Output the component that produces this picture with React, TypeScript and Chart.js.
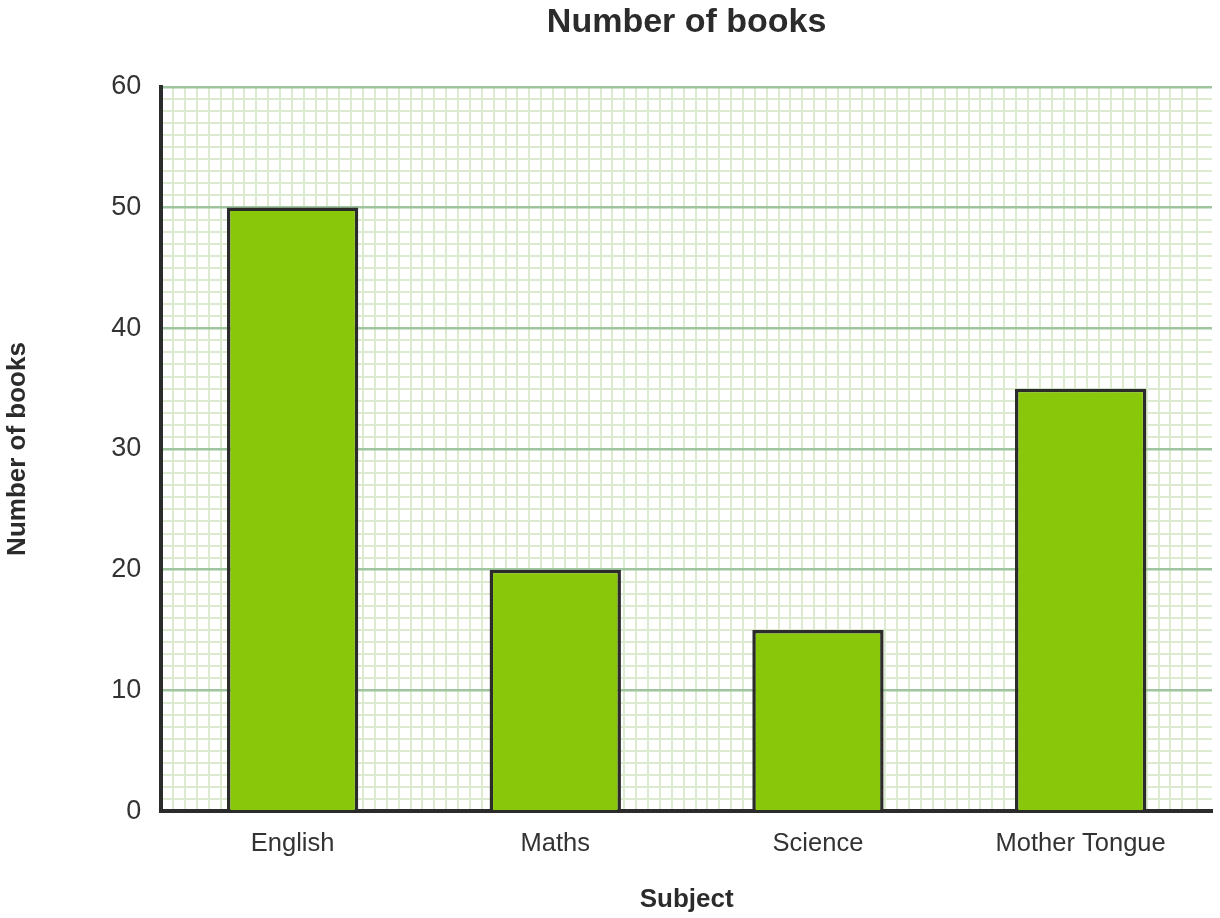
import { useEffect, useRef } from 'react';
import { Chart, registerables } from 'chart.js';

Chart.register(...registerables);

const subjects = ['English', 'Maths', 'Science', 'Mother Tongue'];
const bookCounts = [50, 20, 15, 35];
const yMax = 60;
const minorColumns = 87.5;

const FONT = "'Liberation Sans', Arial, sans-serif";
const MAJOR = '#9fc59f';
const MINOR = '#dcebd0';
const DARK = '#2b2b2b';

export default function App() {
  const canvasRef = useRef<HTMLCanvasElement>(null);
  const chartRef = useRef<Chart | null>(null);

  useEffect(() => {
    document.body.style.margin = '0';
    if (!canvasRef.current) return;
    chartRef.current?.destroy();

    chartRef.current = new Chart(canvasRef.current, {
      type: 'bar',
      data: {
        labels: subjects,
        datasets: [{
          label: 'Number of books',
          data: bookCounts,
          xAxisID: 'x',
          yAxisID: 'y',
          backgroundColor: '#89c70a',
          borderColor: DARK,
          borderWidth: 3.5,
          borderSkipped: 'start',
          barPercentage: 0.5,
          categoryPercentage: 1,
        }],
      },
      options: {
        responsive: true,
        maintainAspectRatio: false,
        animation: false,
        layout: { padding: { left: 0, right: 8, top: 0, bottom: 0 } },
        plugins: {
          legend: { display: false },
          tooltip: { enabled: false },
        },
        scales: {
          x: {
            position: 'bottom',
            grid: { display: false, drawTicks: false },
            border: { display: true, color: DARK, width: 4 },
            ticks: { color: '#333', padding: 17, font: { size: 25.5, family: FONT } },
            title: {
              display: true,
              text: 'Subject',
              color: DARK,
              font: { size: 26, weight: 'bold', family: FONT },
              padding: { top: 8, bottom: 3 },
            },
          },
          // top axis: carries the chart title and the fine vertical grid
          xg: {
            type: 'linear',
            position: 'top',
            min: 0,
            max: minorColumns,
            z: -1,
            ticks: { display: false, stepSize: 1, autoSkip: false, maxTicksLimit: 200 },
            grid: { color: MINOR, lineWidth: 2, drawTicks: false },
            border: { display: false },
            title: {
              display: true,
              text: 'Number of books',
              color: DARK,
              font: { size: 34, weight: 'bold', family: FONT },
              padding: { top: 2, bottom: 44 },
            },
          },
          y: {
            min: 0,
            max: yMax,
            grid: {
              drawTicks: false,
              color: (ctx) => (ctx.tick && ctx.tick.value % 10 === 0 ? MAJOR : MINOR),
              lineWidth: (ctx) => (ctx.tick && ctx.tick.value % 10 === 0 ? 2.5 : 2),
            },
            border: { display: true, color: DARK, width: 4 },
            ticks: {
              stepSize: 1,
              autoSkip: false,
              maxTicksLimit: 200,
              color: '#333',
              padding: 20,
              font: { size: 27, family: FONT },
              callback: (v) => (Number(v) % 10 === 0 ? String(v) : ''),
            },
            title: {
              display: true,
              text: 'Number of books',
              color: DARK,
              font: { size: 26, weight: 'bold', family: FONT },
              padding: { top: 2, bottom: 58 },
            },
          },
        },
      },
    });

    return () => { chartRef.current?.destroy(); };
  }, []);

  return (
    <div style={{ width: 1220, height: 918, position: 'relative' }}>
      <canvas ref={canvasRef} />
    </div>
  );
}
